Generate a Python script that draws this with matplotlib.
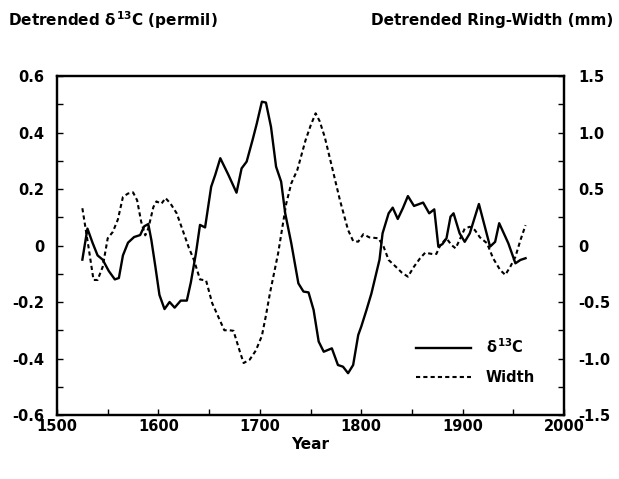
import matplotlib.pyplot as plt
from matplotlib.ticker import MultipleLocator, FuncFormatter

plt.rcParams['font.family'] = 'DejaVu Sans'
plt.rcParams['font.weight'] = 'bold'
plt.rcParams['axes.unicode_minus'] = False
plt.rcParams['mathtext.fontset'] = 'custom'
plt.rcParams['mathtext.rm'] = 'DejaVu Sans:bold'
plt.rcParams['mathtext.it'] = 'DejaVu Sans:bold'
plt.rcParams['mathtext.bf'] = 'DejaVu Sans:bold'

# detrended d13C (permil), left axis
c13_year = [1525, 1530, 1535, 1540, 1545, 1551, 1557, 1561, 1565, 1570, 1576, 1582,
            1586, 1590, 1593, 1597, 1601, 1606, 1611, 1616, 1622, 1628, 1632, 1637,
            1641, 1646, 1652, 1656, 1661, 1669, 1677, 1682, 1687, 1693, 1697, 1702,
            1706, 1711, 1716, 1721, 1725, 1731, 1738, 1743, 1748, 1753, 1758, 1763,
            1771, 1777, 1782, 1787, 1792, 1797, 1800, 1805, 1810, 1818, 1821, 1827,
            1831, 1836, 1841, 1846, 1852, 1861, 1867, 1872, 1876, 1880, 1884, 1888,
            1891, 1897, 1902, 1907, 1916, 1927, 1932, 1936, 1945, 1952, 1957, 1962]
c13_val = [-0.05, 0.06, 0.01, -0.035, -0.05, -0.09, -0.12, -0.115, -0.035, 0.01, 0.03, 0.037,
           0.068, 0.076, 0.02, -0.075, -0.175, -0.225, -0.2, -0.22, -0.195, -0.195, -0.13, -0.027,
           0.073, 0.064, 0.208, 0.25, 0.309, 0.25, 0.187, 0.273, 0.297, 0.376, 0.432, 0.509,
           0.506, 0.42, 0.279, 0.226, 0.114, 0.008, -0.134, -0.163, -0.166, -0.228, -0.34, -0.376,
           -0.364, -0.423, -0.429, -0.452, -0.423, -0.317, -0.287, -0.23, -0.17, -0.05, 0.043, 0.114,
           0.134, 0.094, 0.132, 0.175, 0.14, 0.152, 0.114, 0.128, -0.004, 0.005, 0.025, 0.102,
           0.114, 0.043, 0.013, 0.043, 0.147, -0.004, 0.013, 0.079, 0.008, -0.063, -0.051, -0.045]

# detrended ring width (mm), right axis
rw_year = [1525, 1531, 1536, 1540, 1545, 1550, 1555, 1560, 1565, 1570, 1575, 1579,
           1583, 1587, 1590, 1595, 1598, 1603, 1607, 1612, 1618, 1625, 1630, 1635,
           1641, 1647, 1653, 1659, 1665, 1670, 1674, 1680, 1684, 1690, 1696, 1702,
           1706, 1710, 1718, 1726, 1731, 1737, 1745, 1750, 1755, 1759, 1764, 1771,
           1779, 1787, 1792, 1797, 1802, 1808, 1817, 1822, 1827, 1834, 1840, 1846,
           1852, 1858, 1863, 1870, 1874, 1878, 1884, 1889, 1893, 1897, 1902, 1907,
           1912, 1917, 1924, 1930, 1937, 1942, 1947, 1952, 1957, 1962]
rw_val = [0.33, -0.01, -0.305, -0.305, -0.19, 0.064, 0.12, 0.23, 0.43, 0.46, 0.47, 0.40,
          0.21, 0.09, 0.15, 0.34, 0.39, 0.37, 0.42, 0.37, 0.285, 0.108, -0.02, -0.128,
          -0.3, -0.31, -0.51, -0.63, -0.75, -0.75, -0.755, -0.93, -1.04, -1.01, -0.93, -0.8,
          -0.62, -0.42, -0.07, 0.37, 0.55, 0.67, 0.93, 1.06, 1.17, 1.10, 0.96, 0.70,
          0.40, 0.137, 0.04, 0.034, 0.1, 0.072, 0.064, -0.01, -0.128, -0.187, -0.24, -0.276,
          -0.187, -0.113, -0.064, -0.075, -0.075, 0.004, 0.064, 0.004, -0.025, 0.05, 0.15, 0.166,
          0.137, 0.072, 0.02, -0.113, -0.217, -0.26, -0.187, -0.1, 0.049, 0.18]

fig = plt.figure(figsize=(6.19, 4.79), dpi=100)
ax1 = fig.add_axes([0.0921, 0.1336, 0.8192, 0.7077])
ax2 = ax1.twinx()

l1, = ax1.plot(c13_year, c13_val, color='black', lw=1.7, label=r'$\delta^{13}$C')
l2, = ax2.plot(rw_year, rw_val, color='black', lw=1.5, dashes=(2, 1.5), label='Width')

ax1.set_xlim(1500, 2000)
ax1.set_ylim(-0.6, 0.6)
ax2.set_ylim(-1.5, 1.5)

ax1.xaxis.set_major_locator(MultipleLocator(100))
ax1.xaxis.set_minor_locator(MultipleLocator(50))
ax1.yaxis.set_major_locator(MultipleLocator(0.2))
ax1.yaxis.set_minor_locator(MultipleLocator(0.1))
ax2.yaxis.set_major_locator(MultipleLocator(0.5))
ax2.yaxis.set_minor_locator(MultipleLocator(0.25))

# 0 without decimals, the rest with one
fmt = FuncFormatter(lambda v, p: '0' if abs(v) < 1e-9 else '%.1f' % v)
ax1.yaxis.set_major_formatter(fmt)
ax2.yaxis.set_major_formatter(fmt)

for ax in (ax1, ax2):
    ax.tick_params(which='both', direction='in', length=4, width=1, labelsize=10.5)
    for s in ax.spines.values():
        s.set_linewidth(1.6)
ax1.tick_params(axis='y', which='both', left=True, right=False, pad=9)
ax2.tick_params(axis='y', which='both', left=False, right=True, pad=10)
ax1.tick_params(axis='x', which='both', top=False, pad=3)

ax1.set_xlabel('Year', fontsize=11, fontweight='bold', labelpad=2)

fig.text(0.013, 0.958, r'Detrended $\delta^{13}$C (permil)', fontsize=11, fontweight='bold',
         ha='left', va='center')
fig.text(0.99, 0.958, 'Detrended Ring-Width (mm)', fontsize=11, fontweight='bold',
         ha='right', va='center')

ax1.legend(handles=[l1, l2], loc='lower left', bbox_to_anchor=(0.708, 0.088),
           frameon=False, handlelength=3.8, handletextpad=1.0, labelspacing=0.95,
           borderpad=0, borderaxespad=0, fontsize=10.5)

plt.savefig('out.png', dpi=100)
